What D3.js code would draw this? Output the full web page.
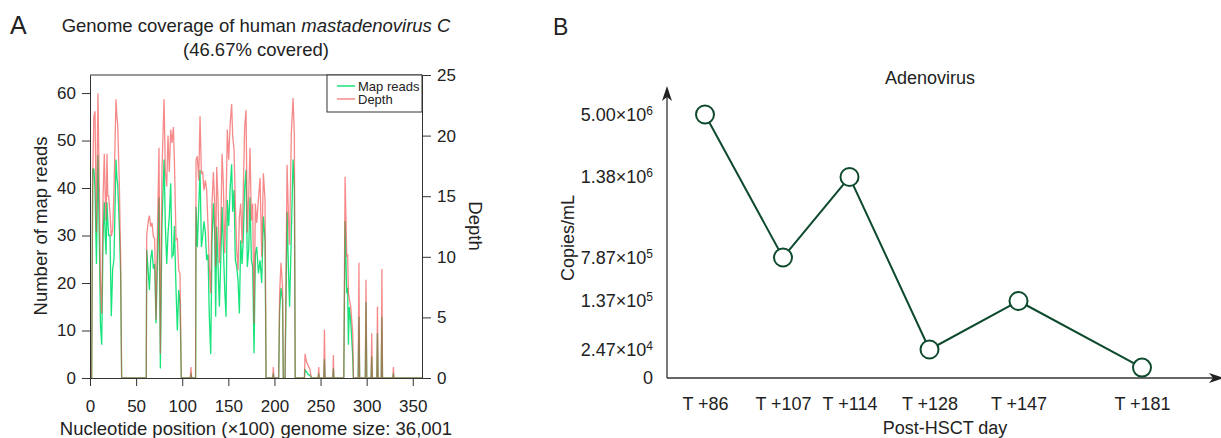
<!DOCTYPE html>
<html>
<head>
<meta charset="utf-8">
<script src="https://d3js.org/d3.v7.min.js"></script>
<style>
    body { margin: 0; background: #fff; }
    svg { font-family: "Liberation Sans", Arial, Helvetica, sans-serif; }
    .axisA .tick text { font-size: 17px; fill: #222; font-family: "Liberation Sans", Arial, sans-serif; }
    .axisB .tick text { font-size: 18px; fill: #222; font-family: "Liberation Sans", Arial, sans-serif; }
</style>
</head>
<body>
<script>
    // Panel A: genome coverage (position in units of 100 nt)
    const posA = [0, 1.8, 3.0, 4.2, 5.4, 7.0, 8.6, 10.2, 11.3, 12.7, 14.2, 15.5, 16.5, 17.4, 18.4, 19.3, 20.2, 21.7, 23.1, 24.6,
        26, 28.2, 29.2, 30, 31.8, 33.2, 34.3, 61, 61.5, 63.3, 64.4, 65.8, 67.2, 68.7, 70.1, 71.6, 73, 74.8, 76.3, 78,
        80.3, 81.7, 83.2, 84.6, 86, 87.5, 88.9, 90.4, 91.5, 93.3, 94.7, 96.2, 97.6, 99, 108.8, 109.5, 110.2, 114.5, 115, 116.4,
        117.9, 119.3, 120.8, 122.2, 123.6, 125.1, 126.5, 128, 129.4, 130.9, 132.3, 133.8, 135.2, 136.3, 137.4, 138.8, 140.3, 141.7, 143.2, 144.6,
        146.1, 147.5, 148.9, 150.4, 152, 153.6, 154.7, 156.2, 157.6, 159.1, 160.5, 162, 163.4, 164.9, 166.3, 167.7, 169.2, 170.6, 172.1, 173.5,
        175, 176.4, 177.9, 179.3, 180.8, 182.6, 184.4, 186.2, 188, 189.8, 190.9, 198.2, 198.8, 199.4, 204.6, 205.6, 207.1, 208.8, 209.6, 211.5,
        213.7, 215.3, 216.4, 218.3, 220.2, 221.6, 222.5, 232.5, 233.2, 234.9, 236.7, 238.5, 240, 247.4, 248, 248.6, 253.5, 254.2, 254.9, 263.3,
        263.9, 264.5, 275.2, 276.6, 278.4, 279.4, 280.2, 281.2, 282.7, 284.9, 285.6, 290.8, 291.6, 292.4, 298.5, 299.3, 300.1, 304.8, 305.5, 306.2,
        311, 311.7, 312.4, 315.8, 316.5, 317.2, 328.4, 329, 329.6, 360];
    const mapReads = [0, 0, 44, 44, 40, 24, 47, 28, 11.5, 7, 30, 37, 30, 26, 37, 33, 30, 30, 13, 23,
        25, 46, 42, 41, 32, 22, 0, 0, 27, 22, 18.5, 25, 27, 23, 24, 11.5, 23, 38, 2, 32,
        46, 32, 24, 30.5, 34, 41, 25.5, 26, 32, 18.5, 10, 18.5, 15.7, 0, 0, 1, 0, 0, 36, 27.6,
        36, 43.8, 27.6, 29.8, 33, 30.5, 24.8, 26, 12.9, 5, 29, 36.8, 30.5, 12.9, 31.9, 24, 15, 24, 36, 27.6,
        18.5, 12.9, 37.5, 32, 40, 45, 35, 39.6, 24.8, 23.4, 20.6, 13.6, 29, 24, 29.8, 40, 43.8, 23.4, 27, 38,
        24.8, 23.4, 5.2, 26, 27.6, 22, 24.8, 20, 34, 29, 0, 0, 1, 0, 0, 14, 19, 16.4, 0, 0,
        35, 22, 15, 30, 46, 40, 0, 0, 1.7, 1.3, 0.7, 0.6, 0, 0, 1, 0, 0, 4, 0, 0,
        2, 0, 0, 33, 17.8, 19, 7, 15, 12, 4.5, 0, 0, 12.9, 0, 0, 16, 0, 0, 4.5, 0,
        0, 9.4, 0, 0, 12.9, 0, 0, 1, 0, 0];
    const depthA = [0, 0, 17, 21.6, 22, 12, 23.5, 15, 8, 5.3, 15, 18.5, 15, 13, 18.5, 15, 15, 13.6, 11.7, 12.2,
        15.5, 23, 21.5, 21, 16, 10, 0, 0, 11.8, 13, 13.4, 12.5, 12.8, 11.7, 11.5, 4.8, 11.4, 19, 2, 17,
        23, 17, 15.8, 20, 17, 20.5, 19.4, 20.7, 18, 11.4, 11.5, 8.9, 8.6, 0, 0, 0.9, 0, 0, 18, 18.3,
        16.3, 21.6, 16.9, 17, 15.5, 16.3, 15.5, 12.5, 9.2, 7, 14.4, 17, 14.4, 9.2, 17.4, 14.7, 9.5, 11.7, 18.5, 16,
        10.3, 14, 20.5, 18, 21, 22.6, 20, 18.8, 14.4, 10.6, 8.9, 13.3, 14.4, 11.1, 15.8, 20.7, 22.1, 12, 15, 19,
        13, 14.4, 4.5, 14.4, 12.8, 14.7, 16.5, 10, 16.9, 14.7, 0, 0, 0.9, 0, 0, 7, 9.5, 7.5, 0, 0,
        17.6, 13, 11, 20.2, 23.1, 20, 0, 0, 2, 1.3, 1, 0.7, 0, 0, 0.9, 0, 0, 4, 0, 0,
        1.9, 0, 0, 16.6, 10, 10.2, 7, 6.5, 5.9, 3.7, 0, 0, 9.5, 0, 0, 8.1, 0, 0, 3.7, 0,
        0, 5.9, 0, 0, 9, 0, 0, 0.9, 0, 0];
    const readTicks = [0, 10, 20, 30, 40, 50, 60];
    const depthTicks = [0, 5, 10, 15, 20, 25];
    const posTicks = [0, 50, 100, 150, 200, 250, 300, 350];

    // Panel B: adenovirus load
    const dayLabels = ["T +86", "T +107", "T +114", "T +128", "T +147", "T +181"];
    const copies = [5.00e6, 7.87e5, 1.38e6, 2.47e4, 1.37e5, 9.0e3];
    const copyTicks = [0, 2.47e4, 1.37e5, 7.87e5, 1.38e6, 5.00e6];

    const width = 1221,
        height = 438;
    const svg = d3.select("body").append("svg").attr("width", width).attr("height", height);

    // ---------- A ----------
    const xA = d3.scaleLinear().domain([0, 360]).range([90, 422]);
    const yReads = d3.scaleLinear().domain([0, 63.8]).range([378, 75]);
    const yDepth = d3.scaleLinear().domain([0, 25]).range([378, 75]);
    const idx = d3.range(posA.length);

    svg.append("path")
        .datum(idx)
        .attr("fill", "none")
        .attr("stroke", "#17e47a")
        .attr("stroke-width", 1.3)
        .attr("d", d3.line().x(i => xA(posA[i])).y(i => yReads(mapReads[i])));
    svg.append("path")
        .datum(idx)
        .attr("fill", "none")
        .attr("stroke", "#f03c3c")
        .attr("stroke-opacity", 0.6)
        .attr("stroke-width", 1.3)
        .attr("d", d3.line().x(i => xA(posA[i])).y(i => yDepth(depthA[i])));

    // frame
    svg.append("line")
        .attr("x1", xA(0)).attr("x2", xA(360))
        .attr("y1", yDepth(25)).attr("y2", yDepth(25))
        .attr("stroke", "#333");

    const gxA = svg.append("g").attr("class", "axisA").attr("color", "#333")
        .attr("transform", `translate(0,${yReads(0)})`)
        .call(d3.axisBottom(xA).tickValues(posTicks).tickSize(8).tickPadding(14).tickSizeOuter(0));
    const gyL = svg.append("g").attr("class", "axisA").attr("color", "#333")
        .attr("transform", `translate(${xA(0)},0)`)
        .call(d3.axisLeft(yReads).tickValues(readTicks).tickSize(8).tickPadding(6).tickSizeOuter(0));
    const gyR = svg.append("g").attr("class", "axisA").attr("color", "#333")
        .attr("transform", `translate(${xA(360)},0)`)
        .call(d3.axisRight(yDepth).tickValues(depthTicks).tickSize(9).tickPadding(6).tickSizeOuter(0));

    // legend
    const leg = svg.append("g").attr("transform", "translate(327,75)");
    leg.append("rect").attr("width", 95).attr("height", 37)
        .attr("fill", "#fff").attr("stroke", "#333");
    leg.append("line").attr("x1", 10).attr("x2", 28).attr("y1", 11).attr("y2", 11)
        .attr("stroke", "#17e47a").attr("stroke-width", 1.5);
    leg.append("line").attr("x1", 10).attr("x2", 28).attr("y1", 24).attr("y2", 24)
        .attr("stroke", "#f03c3c").attr("stroke-opacity", 0.6).attr("stroke-width", 1.5);
    leg.append("text").attr("x", 31).attr("y", 15.5).attr("font-size", 13).attr("fill", "#222").text("Map reads");
    leg.append("text").attr("x", 31).attr("y", 28.5).attr("font-size", 13).attr("fill", "#222").text("Depth");

    // titles
    svg.append("text").attr("x", 10).attr("y", 34).attr("font-size", 25).attr("fill", "#222").text("A");
    const tA = svg.append("text").attr("x", 256).attr("y", 32).attr("text-anchor", "middle")
        .attr("font-size", 18.5).attr("fill", "#222");
    tA.append("tspan").text("Genome coverage of human ");
    tA.append("tspan").attr("font-style", "italic").text("mastadenovirus C");
    svg.append("text").attr("x", 256).attr("y", 56).attr("text-anchor", "middle")
        .attr("font-size", 18.5).attr("fill", "#222").text("(46.67% covered)");
    svg.append("text").attr("x", 256).attr("y", 435).attr("text-anchor", "middle")
        .attr("font-size", 18.5).attr("fill", "#222").text("Nucleotide position (\u00d7100) genome size: 36,001");
    svg.append("text").attr("text-anchor", "middle")
        .attr("transform", `translate(47,226)rotate(-90)`)
        .attr("font-size", 18.5).attr("fill", "#222").text("Number of map reads");
    svg.append("text").attr("text-anchor", "middle")
        .attr("transform", `translate(469,226)rotate(90)`)
        .attr("font-size", 18.5).attr("fill", "#222").text("Depth");

    // ---------- B ----------
    const xB = d3.scaleLinear().domain(d3.range(dayLabels.length))
        .range([705, 783, 849.5, 929.5, 1018.5, 1142]);
    const yB = d3.scaleLinear().domain(copyTicks)
        .range([378, 349.5, 301, 257.5, 177, 114.5]);
    const axX0 = 667;
    const dark = "#0e4a2d";

    const gyB = svg.append("g").attr("class", "axisB")
        .attr("transform", `translate(${axX0},0)`)
        .call(d3.axisLeft(yB).tickValues(copyTicks).tickSize(0).tickPadding(14));
    gyB.select(".domain").remove();
    gyB.selectAll(".tick text").each(function (d) {
        const t = d3.select(this).text("");
        if (d === 0) { t.text("0"); return; }
        const e = Math.floor(Math.log10(d));
        t.append("tspan").text((d / Math.pow(10, e)).toFixed(2) + "\u00d710");
        t.append("tspan").attr("dy", "-0.5em").attr("font-size", "12px").text(e);
    });

    const gxB = svg.append("g").attr("class", "axisB")
        .attr("transform", `translate(0,${yB(0)})`)
        .call(d3.axisBottom(xB).tickValues(d3.range(dayLabels.length))
            .tickFormat(i => dayLabels[i]).tickSize(0).tickPadding(19));
    gxB.select(".domain").remove();

    // arrowed axes
    svg.append("line").attr("x1", axX0).attr("x2", axX0).attr("y1", yB(0)).attr("y2", 96)
        .attr("stroke", "#333").attr("stroke-width", 1.3);
    svg.append("path").attr("d", `M${axX0},86L${axX0 - 5},101L${axX0},97L${axX0 + 5},101Z`).attr("fill", "#222");
    svg.append("line").attr("x1", axX0).attr("x2", 1214).attr("y1", yB(0)).attr("y2", yB(0))
        .attr("stroke", "#333").attr("stroke-width", 1.3);
    svg.append("path").attr("d", `M1224,${yB(0)}L1209,${yB(0) - 5}L1213,${yB(0)}L1209,${yB(0) + 5}Z`).attr("fill", "#222");

    svg.append("path")
        .datum(copies)
        .attr("fill", "none")
        .attr("stroke", dark)
        .attr("stroke-width", 2)
        .attr("d", d3.line().x((d, i) => xB(i)).y(d => yB(d)));
    svg.append("g").selectAll("circle")
        .data(copies)
        .join("circle")
        .attr("cx", (d, i) => xB(i))
        .attr("cy", d => yB(d))
        .attr("r", 9)
        .attr("fill", "#fff")
        .attr("stroke", dark)
        .attr("stroke-width", 2);

    svg.append("text").attr("x", 553).attr("y", 35).attr("font-size", 23).attr("fill", "#222").text("B");
    svg.append("text").attr("x", 930).attr("y", 84).attr("text-anchor", "middle")
        .attr("font-size", 18).attr("fill", "#222").text("Adenovirus");
    svg.append("text").attr("text-anchor", "middle")
        .attr("transform", `translate(574,238)rotate(-90)`)
        .attr("font-size", 18).attr("fill", "#222").text("Copies/mL");
    svg.append("text").attr("x", 945).attr("y", 434).attr("text-anchor", "middle")
        .attr("font-size", 18).attr("fill", "#222").text("Post-HSCT day");
</script>
</body>
</html>
